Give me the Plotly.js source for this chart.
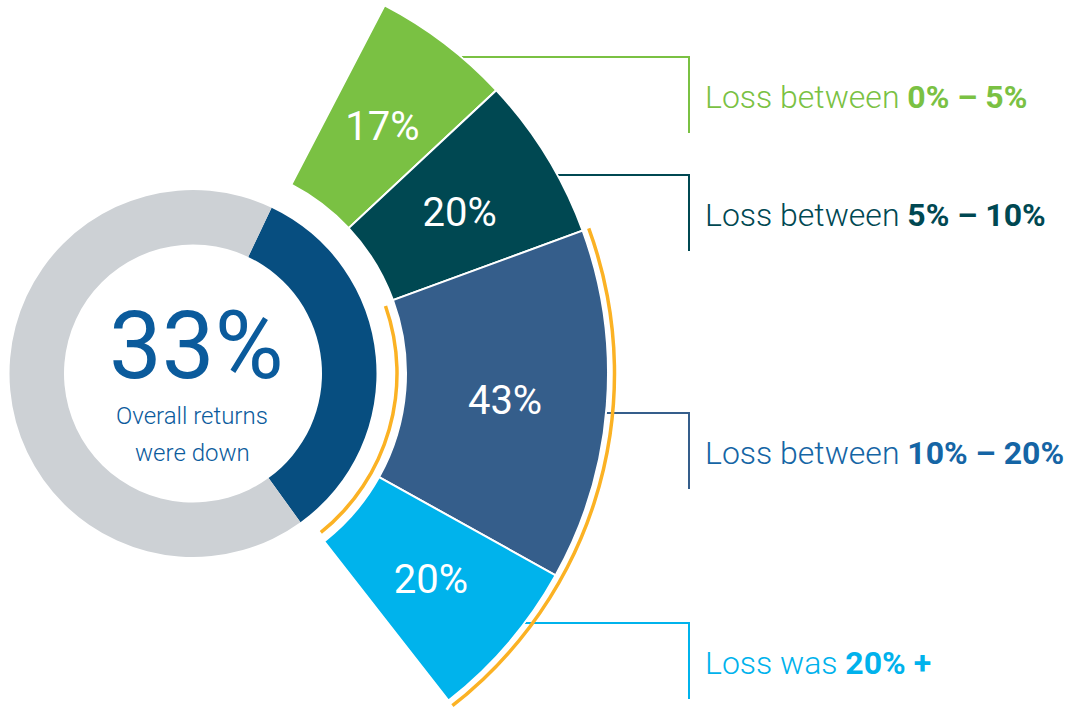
<!DOCTYPE html>
<html><head><meta charset="utf-8">
<script src="https://cdn.plot.ly/plotly-3.0.1.min.js"></script>
<style>html,body{margin:0;padding:0;background:#fff}#chart{width:1068px;height:709px}</style>
</head><body><div id="chart"></div>
<script>
// ---------- data ----------
const overallLabels = ['Overall returns were down', 'Other'];
const overallShares = [33, 67];
const centerCaption = ['Overall returns', 'were down'];
const categories = ['0% – 5%', '5% – 10%', '10% – 20%', '20% +'];
const labelPrefixes = ['Loss between ', 'Loss between ', 'Loss between ', 'Loss was '];
const lossShares = [17, 20, 43, 20];
const highlighted = [false, false, true, true];

// ---------- style ----------
const W = 1068, H = 709, CX = 193, CY = 373.5;
const FONT = 'Roboto, "Liberation Sans", sans-serif';
const donutColors = ['#074e80', '#cdd1d5'];
const fanColors = ['#7ac143', '#004852', '#355e8b', '#00b3ec'];
const textColors = ['#7ac143', '#004852', '#1565a5', '#00b2ec'];
const lineColors = ['#7ac143', '#004852', '#355e8b', '#00b3ec'];
const CENTER_BLUE = '#0b5b9c';
const ORANGE = '#fbb224';
const DONUT_R = 183.5, DONUT_HOLE = 129 / 183.5;
const FAN_IN = 213, FAN_OUT = 415, LABEL_R = 313, LABEL_DROP = 6;
const FAN_START = 62.5, FAN_SPAN = 114.5;
const ARC_OUT = 421.5, ARC_IN = 204, ARC_W = 3.5;
const leaderY = [57, 175, 413, 623];
const BAR_X = 689, BAR_LEN = 76, TEXT_X = 703, TEXT_DY = 40;

// ---------- helpers ----------
const rad = d => d * Math.PI / 180;
const deg = r => r * 180 / Math.PI;
function sectorBBox(sector) {
  const s0 = sector[0], s1 = sector[1], arc = s1 - s0;
  const a0 = ((s0 % 360) + 360) % 360, a1 = a0 + arc;
  const ax0 = Math.cos(rad(a0)), ay0 = Math.sin(rad(a0));
  const ax1 = Math.cos(rad(a1)), ay1 = Math.sin(rad(a1));
  let x0, y0, x1, y1;
  if ((a0 <= 90 && a1 >= 90) || (a0 > 90 && a1 >= 450)) y1 = 1;
  else if (ay0 <= 0 && ay1 <= 0) y1 = 0; else y1 = Math.max(ay0, ay1);
  if ((a0 <= 180 && a1 >= 180) || (a0 > 180 && a1 >= 540)) x0 = -1;
  else if (ax0 >= 0 && ax1 >= 0) x0 = 0; else x0 = Math.min(ax0, ax1);
  if ((a0 <= 270 && a1 >= 270) || (a0 > 270 && a1 >= 630)) y0 = -1;
  else if (ay0 >= 0 && ay1 >= 0) y0 = 0; else y0 = Math.min(ay0, ay1);
  if (a1 >= 360) x1 = 1;
  else if (ax0 <= 0 && ax1 <= 0) x1 = 0; else x1 = Math.max(ax0, ax1);
  return [x0, y0, x1, y1];
}
function polarDomain(sector, R) {
  const b = sectorBBox(sector);
  return {
    x: [(CX + R * b[0]) / W, (CX + R * b[2]) / W],
    y: [(H - (CY - R * b[1])) / H, (H - (CY - R * b[3])) / H]
  };
}
const px = x => x / W, py = y => (H - y) / H;

// ---------- fan geometry from data ----------
const total = lossShares.reduce((a, b) => a + b, 0);
const spans = lossShares.map(v => v / total * FAN_SPAN);
const starts = [];
let acc = FAN_START;
spans.forEach(s => { starts.push(acc); acc -= s; });
const mids = starts.map((s, i) => s - spans[i] / 2);
const FAN_END = acc;

// label anchor: mid-angle at LABEL_R, nudged a few px down on screen to optically centre the digits
const labelPts = mids.map(m => {
  const x = LABEL_R * Math.cos(rad(m)), y = LABEL_R * Math.sin(rad(m)) - LABEL_DROP;
  return { r: Math.hypot(x, y), t: deg(Math.atan2(y, x)) };
});

const hiIdx = highlighted.map((h, i) => h ? i : -1).filter(i => i >= 0);
const hiStart = starts[hiIdx[0]];
const hiEnd = starts[hiIdx[hiIdx.length - 1]] - spans[hiIdx[hiIdx.length - 1]];

const fanCentre = (FAN_START + FAN_END) / 2;
const sliceDeg = overallShares[0] / overallShares.reduce((a, b) => a + b, 0) * 360;
const pieRotation = (90 - fanCentre) - sliceDeg / 2;

const polar1Sector = [-52.5, 63], polar1R = 416;
const polar2Sector = [-52, 22], polar2R = 425;

const traces = [
  {
    type: 'pie', values: overallShares, labels: overallLabels, sort: false,
    direction: 'clockwise', rotation: pieRotation, hole: DONUT_HOLE,
    marker: { colors: donutColors, line: { width: 0 } },
    textinfo: 'none', hoverinfo: 'skip', showlegend: false,
    domain: { x: [px(CX - DONUT_R), px(CX + DONUT_R)], y: [py(CY + DONUT_R), py(CY - DONUT_R)] }
  },
  {
    type: 'barpolar', subplot: 'polar', theta: mids, width: spans,
    r: lossShares.map(() => FAN_OUT - FAN_IN), base: FAN_IN,
    marker: { color: fanColors, line: { color: '#ffffff', width: 2 } },
    hoverinfo: 'skip', showlegend: false
  },
  {
    type: 'scatterpolar', subplot: 'polar', mode: 'text',
    theta: labelPts.map(p => p.t), r: labelPts.map(p => p.r),
    text: lossShares.map(v => v + '%'),
    textfont: { family: FONT, size: 40, color: '#ffffff' },
    hoverinfo: 'skip', showlegend: false
  },
  {
    type: 'barpolar', subplot: 'polar2',
    theta: [(hiStart + hiEnd - 4) / 2, (hiStart - 0.8 + hiEnd + 0.8) / 2],
    width: [hiStart - hiEnd + 4, hiStart - hiEnd - 1.6],
    r: [ARC_W, ARC_W], base: [ARC_OUT - ARC_W / 2, ARC_IN - ARC_W / 2],
    marker: { color: ORANGE, line: { width: 0 } },
    hoverinfo: 'skip', showlegend: false
  }
];

const hiddenPolar = (sector, R) => ({
  domain: polarDomain(sector, R), sector: sector, bgcolor: 'rgba(0,0,0,0)', barmode: 'overlay',
  radialaxis: { visible: false, range: [0, R] },
  angularaxis: { visible: false, direction: 'counterclockwise', rotation: 0 }
});

const shapes = [], annotations = [];
categories.forEach((c, i) => {
  const y = leaderY[i];
  const xStart = CX + Math.sqrt(FAN_OUT * FAN_OUT - (CY - y) * (CY - y));
  shapes.push({ type: 'line', xref: 'paper', yref: 'paper', layer: 'below',
    x0: px(xStart), x1: px(BAR_X), y0: py(y), y1: py(y), line: { color: lineColors[i], width: 2 } });
  shapes.push({ type: 'line', xref: 'paper', yref: 'paper', layer: 'below',
    x0: px(BAR_X), x1: px(BAR_X), y0: py(y - 1), y1: py(y + BAR_LEN), line: { color: lineColors[i], width: 2 } });
  annotations.push({ xref: 'paper', yref: 'paper', x: px(TEXT_X), y: py(y + TEXT_DY),
    xanchor: 'left', yanchor: 'middle', showarrow: false,
    text: labelPrefixes[i] + '<b>' + c + '</b>',
    font: { family: FONT, size: 32, weight: 300, color: textColors[i] } });
});
annotations.push({ xref: 'paper', yref: 'paper', x: px(196), y: py(346), xanchor: 'center', yanchor: 'middle',
  showarrow: false, text: overallShares[0] + '%', font: { family: FONT, size: 94, color: CENTER_BLUE } });
centerCaption.forEach((line, k) => {
  annotations.push({ xref: 'paper', yref: 'paper', x: px(192), y: py(416 + k * 37), xanchor: 'center', yanchor: 'middle',
    showarrow: false, text: line, font: { family: FONT, size: 24, weight: 300, color: CENTER_BLUE } });
});

const layout = {
  width: W, height: H, autosize: false,
  margin: { l: 0, r: 0, t: 0, b: 0, pad: 0 },
  paper_bgcolor: '#ffffff', plot_bgcolor: '#ffffff', showlegend: false,
  polar: hiddenPolar(polar1Sector, polar1R),
  polar2: hiddenPolar(polar2Sector, polar2R),
  shapes: shapes, annotations: annotations
};

Plotly.newPlot('chart', traces, layout, { displayModeBar: false, staticPlot: true });
</script></body></html>
